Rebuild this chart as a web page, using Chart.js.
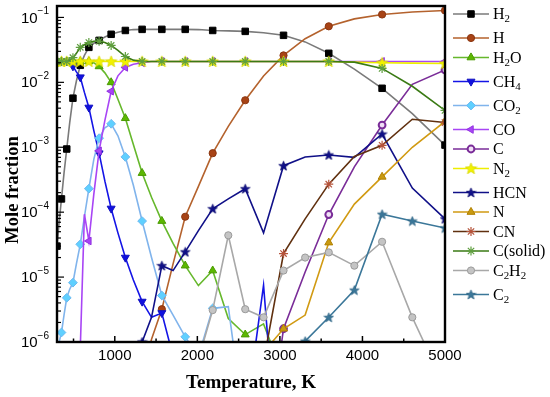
<!DOCTYPE html>
<html>
<head>
<meta charset="utf-8">
<script src="https://cdn.jsdelivr.net/npm/chart.js@4/dist/chart.umd.min.js"></script>
<style>
html,body{margin:0;padding:0;background:#fff;}
#c{display:block;}
</style>
</head>
<body>
<canvas id="c" width="550" height="397"></canvas>
<script>
// ---------- DATA ----------
const temperatures = [300, 326, 354, 385, 418, 454, 493, 535, 582, 632, 686, 746, 810, 880, 956, 1038, 1128, 1225, 1331, 1445, 1570, 1706, 1853, 2013, 2186, 2375, 2580, 2802, 3044, 3306, 3592, 3902, 4238, 4604, 5000];

const H2 = [3e-5, 7e-5, 1.6e-4, 4e-4, 9.4e-4, 2.4e-3, 5.7e-3, 0.0105, 0.0183, 0.026, 0.0346, 0.040, 0.0443, 0.050, 0.055, 0.059, 0.063, 0.065, 0.0655, 0.0655, 0.0655, 0.0655, 0.0655, 0.065, 0.063, 0.062, 0.061, 0.058, 0.053, 0.042, 0.028, 0.016, 8.1e-3, 3.3e-3, 1.08e-3];
const H = [null, null, null, null, null, null, null, null, null, null, null, null, null, null, null, null, null, null, 3e-7, 1.1e-6, 3.2e-6, 1.6e-5, 8.5e-5, 2.5e-4, 8.1e-4, 2.1e-3, 5.3e-3, 0.0125, 0.026, 0.047, 0.073, 0.095, 0.111, 0.121, 0.128];
const H2O = [0.021, 0.021, 0.021, 0.021, 0.021, 0.021, 0.021, 0.021, 0.021, 0.021, 0.021, 0.020, 0.0176, 0.014, 0.010, 5.5e-3, 2.8e-3, 1.1e-3, 4.0e-4, 1.7e-4, 7.3e-5, 3.3e-5, 1.5e-5, 7.4e-6, 1.26e-5, 2.3e-6, 1.3e-6, 1.9e-6, 3e-7, null, null, null, null, null, null];
const CH4 = [0.021, 0.021, 0.021, 0.021, 0.021, 0.0195, 0.0177, 0.0145, 0.012, 7e-3, 4.1e-3, 1.8e-3, 8.1e-4, 3e-4, 1.14e-4, 4.8e-5, 2.0e-5, 9e-6, 4.2e-6, 2.4e-6, 2.8e-6, 6e-7, null, null, null, null, 6e-8, 7.5e-6, 1e-9, null, null, null, null, null, null];
const CO2 = [7e-7, 1.0e-6, 1.4e-6, 2.6e-6, 4.8e-6, 6.5e-6, 8.2e-6, 1.6e-5, 3.2e-5, 8.5e-5, 2.3e-4, 6.5e-4, 1.38e-3, 2.0e-3, 2.3e-3, 1.5e-3, 7.1e-4, 2.6e-4, 7.3e-5, 2.0e-5, 5.2e-6, 2.6e-6, 1.2e-6, 6e-7, 3.3e-6, 3.5e-6, 4e-8, null, null, null, null, null, null, null, null];
const CO = [null, null, null, null, null, null, null, null, 8e-7, 9.3e-5, 3.6e-5, 1.9e-4, 8.8e-4, 2.6e-3, 7.3e-3, 0.0126, 0.017, 0.019, 0.020, 0.021, 0.021, 0.021, 0.021, 0.021, 0.021, 0.021, 0.021, 0.021, 0.021, 0.021, 0.021, 0.021, 0.021, 0.021, 0.021];
const C = [null, null, null, null, null, null, null, null, null, null, null, null, null, null, null, null, null, null, null, null, null, null, null, null, null, null, null, 1e-8, 1.6e-6, 1.2e-5, 9.2e-5, 5e-4, 2.2e-3, 9.3e-3, 0.0155];
const N2 = [0.021, 0.021, 0.021, 0.021, 0.021, 0.021, 0.021, 0.021, 0.021, 0.021, 0.021, 0.021, 0.021, 0.021, 0.021, 0.021, 0.021, 0.021, 0.021, 0.021, 0.021, 0.021, 0.021, 0.021, 0.021, 0.021, 0.021, 0.021, 0.021, 0.021, 0.021, 0.0205, 0.020, 0.0198, 0.0195];
const HCN = [null, null, null, null, null, null, null, null, null, null, null, null, null, null, null, null, null, null, 1e-6, 2.4e-6, 1.5e-5, 1.26e-5, 2.45e-5, 5.2e-5, 1.13e-4, 1.6e-4, 2.3e-4, 4.8e-5, 5.2e-4, 7.1e-4, 7.6e-4, 7e-4, 1.6e-3, 2.35e-4, 7.9e-5];
const N = [null, null, null, null, null, null, null, null, null, null, null, null, null, null, null, null, null, null, null, null, null, null, null, null, null, null, null, 7e-7, 1.6e-6, 2.6e-6, 3.4e-5, 1.33e-4, 3.5e-4, 1.0e-3, 2.5e-3];
const CN = [null, null, null, null, null, null, null, null, null, null, null, null, null, null, null, null, null, null, null, null, null, null, null, null, null, null, null, 5e-7, 2.3e-5, 7.9e-5, 2.7e-4, 7.2e-4, 1.07e-3, 2.7e-3, 2.4e-3];
const Csolid = [0.021, 0.021, 0.021, 0.021, 0.021, 0.022, 0.024, 0.028, 0.0346, 0.038, 0.041, 0.043, 0.043, 0.041, 0.037, 0.031, 0.025, 0.022, 0.021, 0.021, 0.021, 0.021, 0.021, 0.021, 0.021, 0.021, 0.021, 0.021, 0.021, 0.021, 0.021, 0.0205, 0.0164, 8.7e-3, 3.7e-3];
const C2H2 = [null, null, null, null, null, null, null, null, null, null, null, null, null, null, null, null, null, null, null, null, null, null, null, 5.4e-7, 3.1e-6, 4.4e-5, 3.2e-6, 2.4e-6, 1.26e-5, 2.0e-5, 2.4e-5, 1.5e-5, 3.5e-5, 2.4e-6, 2e-7];
const C2 = [null, null, null, null, null, null, null, null, null, null, null, null, null, null, null, null, null, null, null, null, null, null, null, null, null, null, null, null, 4.8e-7, 1.03e-6, 2.4e-6, 6.3e-6, 9.3e-5, 7.3e-5, 5.7e-5];

const seriesLabels = ['H_2', 'H', 'H_2O', 'CH_4', 'CO_2', 'CO', 'C', 'N_2', 'HCN', 'N', 'CN', 'C(solid)', 'C_2H_2', 'C_2'];
const xTickValues = [1000, 2000, 3000, 4000, 5000];
const xMinorValues = [500, 1500, 2500, 3500, 4500];
const yDecadeExponents = [-6, -5, -4, -3, -2, -1];

// ---------- STYLES ----------
function starImage(fill, stroke, size) {
  const c = document.createElement('canvas');
  c.width = size; c.height = size;
  const g = c.getContext('2d');
  const cx = size / 2, cy = size / 2 + 0.4, R = size / 2 - 0.5, r = R * 0.42;
  g.beginPath();
  for (let i = 0; i < 10; i++) {
    const ang = -Math.PI / 2 + i * Math.PI / 5;
    const rad = i % 2 === 0 ? R : r;
    const px = cx + rad * Math.cos(ang), py = cy + rad * Math.sin(ang);
    if (i === 0) g.moveTo(px, py); else g.lineTo(px, py);
  }
  g.closePath();
  g.fillStyle = fill; g.fill();
  g.strokeStyle = stroke; g.lineWidth = 0.8; g.stroke();
  return c;
}

const styles = [
  {line: '#7a7a7a', fill: '#000000', border: '#000000', shape: 'rect', r: 4.6, rot: 0, bw: 1, every: 2},
  {line: '#b4622d', fill: '#a84315', border: '#8a3510', shape: 'circle', r: 3.6, rot: 0, bw: 1, every: 2},
  {line: '#66b82c', fill: '#5cb800', border: '#4a9a00', shape: 'triangle', r: 4.6, rot: 0, bw: 1, every: 2},
  {line: '#1414e6', fill: '#1010e0', border: '#1010c0', shape: 'triangle', r: 4.6, rot: 180, bw: 1, every: 2},
  {line: '#80b4ec', fill: '#5fd0ff', border: '#6cb8f0', shape: 'rectRot', r: 4.4, rot: 0, bw: 1, every: 2},
  {line: '#a845f5', fill: '#a845f5', border: '#9030e0', shape: 'triangle', r: 4.4, rot: -90, bw: 1, every: 2},
  {line: '#7a2c98', fill: '#f0e0f6', border: '#7a2c98', shape: 'circle', r: 3.4, rot: 0, bw: 2, every: 2},
  {line: '#eeee00', fill: '#f2f200', border: '#d8d800', shape: 'star5', size: 13, r: 5, rot: 0, bw: 1, every: 2},
  {line: '#101088', fill: '#101088', border: '#0a0a70', shape: 'star5', size: 11, r: 5, rot: 0, bw: 1, every: 2},
  {line: '#d19a12', fill: '#c99a10', border: '#b08000', shape: 'triangle', r: 4.6, rot: 0, bw: 1, every: 2},
  {line: '#60300f', fill: '#b5533a', border: '#b5533a', shape: 'star', r: 4.5, rot: 0, bw: 1.2, every: 2},
  {line: '#3a7a14', fill: '#5f9f3f', border: '#5f9f3f', shape: 'star', r: 4.5, rot: 0, bw: 1.2, every: 2},
  {line: '#a8a8a8', fill: '#c4c4c4', border: '#9a9a9a', shape: 'circle', r: 3.6, rot: 0, bw: 1, every: 1},
  {line: '#3b7799', fill: '#3b7799', border: '#2e6585', shape: 'star5', size: 11, r: 5, rot: 0, bw: 1, every: 1}
];
styles.forEach(s => { if (s.shape === 'star5') s.img = starImage(s.fill, s.border, s.size); });

const seriesValues = [H2, H, H2O, CH4, CO2, CO, C, N2, HCN, N, CN, Csolid, C2H2, C2];

const datasets = seriesValues.map((vals, k) => {
  const s = styles[k];
  return {
    label: seriesLabels[k],
    data: temperatures.map((t, i) => ({x: t, y: vals[i]})),
    order: -k,
    borderColor: s.line,
    borderWidth: 1.6,
    backgroundColor: s.fill,
    pointBackgroundColor: s.fill,
    pointBorderColor: s.border,
    pointBorderWidth: s.bw,
    pointStyle: s.img ? s.img : s.shape,
    pointRotation: s.rot,
    pointRadius: ctx => (ctx.dataIndex % s.every === 0 ? s.r : 0),
    pointHoverRadius: 0,
    tension: 0,
    spanGaps: false,
    fill: false
  };
});

// ---------- DRAWING HELPERS ----------
function drawSubText(ctx, label, x, y, size) {
  let cx = x;
  for (let i = 0; i < label.length; i++) {
    const ch = label[i];
    if (ch === '_') {
      const d = label[i + 1]; i++;
      ctx.font = (size * 0.68) + 'px "Liberation Serif"';
      ctx.fillText(d, cx, y + size * 0.28);
      cx += ctx.measureText(d).width;
    } else {
      ctx.font = size + 'px "Liberation Serif"';
      ctx.fillText(ch, cx, y);
      cx += ctx.measureText(ch).width;
    }
  }
}

const decor = {
  id: 'decor',
  afterDatasetsDraw(chart) {
    const {ctx, chartArea: a, scales} = chart;
    const xs = scales.x, ys = scales.y;
    ctx.save();
    ctx.strokeStyle = '#000';
    ctx.lineWidth = 1.5;
    xTickValues.forEach(v => {
      const px = xs.getPixelForValue(v);
      ctx.beginPath(); ctx.moveTo(px, a.bottom); ctx.lineTo(px, a.bottom - 6); ctx.stroke();
    });
    xMinorValues.forEach(v => {
      const px = xs.getPixelForValue(v);
      ctx.beginPath(); ctx.moveTo(px, a.bottom); ctx.lineTo(px, a.bottom - 3.5); ctx.stroke();
    });
    ctx.lineWidth = 1.2;
    yDecadeExponents.forEach(e => {
      const py = ys.getPixelForValue(Math.pow(10, e));
      ctx.beginPath(); ctx.moveTo(a.left, py); ctx.lineTo(a.left + 7, py); ctx.stroke();
      for (let m = 2; m <= 9; m++) {
        const v = m * Math.pow(10, e);
        if (v > ys.max) break;
        const q = ys.getPixelForValue(v);
        ctx.beginPath(); ctx.moveTo(a.left, q); ctx.lineTo(a.left + 4, q); ctx.stroke();
      }
    });
    ctx.lineWidth = 2.4;
    ctx.strokeRect(a.left, a.top, a.right - a.left, a.bottom - a.top);

    ctx.fillStyle = '#000';
    ctx.font = '15px "Liberation Sans"';
    ctx.textAlign = 'center';
    ctx.textBaseline = 'middle';
    xTickValues.forEach(v => {
      ctx.fillText(String(v), xs.getPixelForValue(v), a.bottom + 14);
    });
    yDecadeExponents.forEach(e => {
      const py = ys.getPixelForValue(Math.pow(10, e));
      ctx.textAlign = 'right';
      ctx.font = '10px "Liberation Sans"';
      const sup = String(e).replace('-', '\u2212');
      const supW = ctx.measureText(sup).width;
      const right = a.left - 8;
      ctx.textBaseline = 'middle';
      ctx.fillText(sup, right, py - 6);
      ctx.font = '15px "Liberation Sans"';
      ctx.fillText('10', right - supW, py + 1);
    });
    ctx.textAlign = 'center';
    ctx.textBaseline = 'middle';
    ctx.font = 'bold 19px "Liberation Serif"';
    ctx.fillText('Temperature, K', 251, 383);
    ctx.save();
    ctx.font = 'bold 18.5px "Liberation Serif"';
    ctx.translate(13, 190);
    ctx.rotate(-Math.PI / 2);
    ctx.fillText('Mole fraction', 0, 0);
    ctx.restore();

    let ly = 14;
    const lx0 = a.right + 8, lx1 = a.right + 44, mx = a.right + 26, tx = a.right + 48;
    chart.data.datasets.forEach((ds, k) => {
      const s = styles[k];
      ctx.strokeStyle = s.line;
      ctx.lineWidth = 1.6;
      ctx.beginPath(); ctx.moveTo(lx0, ly); ctx.lineTo(lx1, ly); ctx.stroke();
      ctx.fillStyle = s.fill;
      ctx.strokeStyle = s.border;
      ctx.lineWidth = s.bw;
      if (Chart.helpers && Chart.helpers.drawPoint) {
        Chart.helpers.drawPoint(ctx, {pointStyle: s.img ? s.img : s.shape, rotation: s.rot, radius: s.r, borderWidth: s.bw}, mx, ly);
      }
      ctx.fillStyle = '#000';
      ctx.textAlign = 'left';
      ctx.textBaseline = 'middle';
      drawSubText(ctx, seriesLabels[k], tx, ly + 1, 16);
      ly += 19.5 + (seriesLabels[k].indexOf('_') >= 0 ? 4.5 : 0);
    });
    ctx.restore();
  }
};

new Chart(document.getElementById('c'), {
  type: 'line',
  data: {datasets},
  options: {
    responsive: false,
    animation: false,
    devicePixelRatio: 1,
    layout: {padding: {left: 0, right: 105, top: 5, bottom: 0}},
    plugins: {legend: {display: false}, tooltip: {enabled: false}},
    events: [],
    scales: {
      x: {
        type: 'linear', min: 300, max: 5000,
        grid: {display: false, drawTicks: false},
        border: {display: false},
        ticks: {display: false},
        afterFit: s => { s.height = 55; }
      },
      y: {
        type: 'logarithmic', min: 1e-6, max: 0.15,
        grid: {display: false, drawTicks: false},
        border: {display: false},
        ticks: {display: false},
        afterFit: s => { s.width = 57; }
      }
    }
  },
  plugins: [decor]
});
</script>
</body>
</html>
